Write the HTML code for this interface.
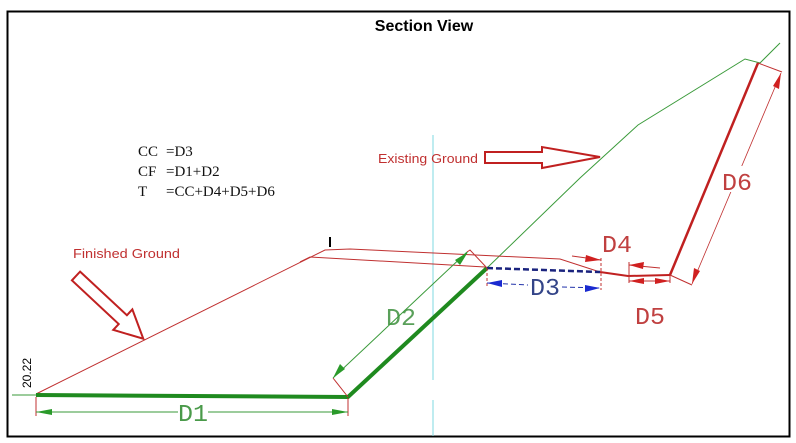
<!DOCTYPE html>
<html><head><meta charset="utf-8"><style>
html,body{margin:0;padding:0;background:#fff;}
svg{display:block;}
</style></head><body>
<svg width="796" height="443" viewBox="0 0 796 443" xmlns="http://www.w3.org/2000/svg">
<rect x="0" y="0" width="796" height="443" fill="#fff"/>
<rect x="7.5" y="11.5" width="782" height="425" fill="none" stroke="#000" stroke-width="2"/>
<text x="424" y="31" font-family="Liberation Sans, sans-serif" font-weight="bold" font-size="16" text-anchor="middle">Section View</text>

<g font-family="Liberation Serif, serif" font-size="15" fill="#111">
<text x="138" y="156">CC</text><text x="166" y="156">=D3</text>
<text x="138" y="176">CF</text><text x="166" y="176">=D1+D2</text>
<text x="138" y="196">T</text><text x="166" y="196">=CC+D4+D5+D6</text>
</g>

<line x1="433" y1="135" x2="433" y2="380" stroke="#7fd8e0" stroke-width="1"/>
<line x1="433" y1="400" x2="433" y2="436" stroke="#7fd8e0" stroke-width="1"/>

<polyline points="487,268 580,178 638,125 745,59 760,63 780,43" fill="none" stroke="#3a9a3a" stroke-width="1"/>
<line x1="12" y1="395" x2="36" y2="395" stroke="#3a9a3a" stroke-width="1"/>

<polyline points="36,394 325,250 350,249 560,259 600,272 628,276 670,275" fill="none" stroke="#c03030" stroke-width="1"/>
<polyline points="300,262 310,257 485,267" fill="none" stroke="#c03030" stroke-width="1"/>
<polyline points="600,272 628,276 670,275" fill="none" stroke="#c02020" stroke-width="2"/>
<line x1="670" y1="275" x2="758" y2="63" stroke="#c02020" stroke-width="2.5"/>
<line x1="330" y1="237" x2="330" y2="247" stroke="#000" stroke-width="2"/>

<polyline points="36,395 348,397 487,268" fill="none" stroke="#1f8a1f" stroke-width="4"/>

<line x1="36" y1="397" x2="36" y2="416" stroke="#c03030" stroke-width="1"/>
<line x1="348" y1="398" x2="348" y2="416" stroke="#c03030" stroke-width="1"/>
<line x1="36" y1="412" x2="178" y2="412" stroke="#3a9a3a" stroke-width="1"/>
<line x1="208" y1="412" x2="348" y2="412" stroke="#3a9a3a" stroke-width="1"/>
<polygon points="36,412 52,409 52,415" fill="#2a9a2a"/>
<polygon points="348,412 332,409 332,415" fill="#2a9a2a"/>
<g font-family="Liberation Mono, monospace" font-size="24" text-anchor="middle">
<text x="193" y="421" fill="#4a9a4a" textLength="30" lengthAdjust="spacingAndGlyphs">D1</text>
<text x="401" y="325" fill="#5aa05a" textLength="30" lengthAdjust="spacingAndGlyphs">D2</text>
<text x="545" y="295" fill="#334488" textLength="30" lengthAdjust="spacingAndGlyphs">D3</text>
<text x="617" y="252" fill="#c04040" textLength="30" lengthAdjust="spacingAndGlyphs">D4</text>
<text x="650" y="324" fill="#c04040" textLength="30" lengthAdjust="spacingAndGlyphs">D5</text>
</g>

<line x1="333" y1="378" x2="348" y2="397" stroke="#c03030" stroke-width="1"/>
<polyline points="467,252 470,250 487,268" fill="none" stroke="#c03030" stroke-width="1"/>
<line x1="333" y1="378" x2="467" y2="252" stroke="#3a9a3a" stroke-width="1"/>
<polygon points="333,378 340,364 345,369" fill="#2a9a2a"/>
<polygon points="468,252 455,260 460,265" fill="#2a9a2a"/>

<line x1="487" y1="268" x2="600" y2="272" stroke="#1a237e" stroke-width="2.5" stroke-dasharray="6,3"/>
<line x1="487" y1="268" x2="487" y2="286" stroke="#c03030" stroke-width="1" stroke-dasharray="3,2"/>
<line x1="601" y1="258" x2="601" y2="290" stroke="#c03030" stroke-width="1" stroke-dasharray="3,2"/>
<line x1="487" y1="283" x2="528" y2="285" stroke="#2233aa" stroke-width="1" stroke-dasharray="5,3"/>
<line x1="562" y1="287" x2="600" y2="288" stroke="#2233aa" stroke-width="1" stroke-dasharray="5,3"/>
<polygon points="487,283 502,280 502,287" fill="#1a2ad0"/>
<polygon points="600,288 585,285 585,292" fill="#1a2ad0"/>

<line x1="572" y1="256" x2="601" y2="260" stroke="#c03030" stroke-width="1"/>
<polygon points="601,260 586,255 585,262" fill="#d02020"/>
<line x1="629" y1="262" x2="629" y2="283" stroke="#c03030" stroke-width="1"/>
<line x1="629" y1="265" x2="660" y2="268" stroke="#c03030" stroke-width="1"/>
<polygon points="629,265 644,262 643,269" fill="#d02020"/>

<line x1="670" y1="275" x2="670" y2="283" stroke="#c03030" stroke-width="1"/>
<line x1="629" y1="281" x2="670" y2="281" stroke="#c03030" stroke-width="1"/>
<polygon points="629,281 644,278 644,284" fill="#d02020"/>
<polygon points="670,281 655,278 655,284" fill="#d02020"/>

<line x1="670" y1="275" x2="692" y2="285" stroke="#c03030" stroke-width="1"/>
<line x1="758" y1="63" x2="782" y2="72" stroke="#c03030" stroke-width="1"/>
<line x1="692" y1="284" x2="781" y2="73" stroke="#c03030" stroke-width="0.8"/>
<polygon points="692,284 694,268 700,271" fill="#d02020"/>
<polygon points="781,73 779,89 773,86" fill="#d02020"/>
<rect x="722" y="166" width="30" height="26" fill="#fff"/>
<text x="737" y="190" font-family="Liberation Mono, monospace" font-size="24" fill="#c04040" text-anchor="middle" textLength="30" lengthAdjust="spacingAndGlyphs">D6</text>

<text transform="translate(31,388) rotate(-90)" font-family="Liberation Sans, sans-serif" font-size="12" fill="#000">20.22</text>

<text x="73" y="258" font-family="Liberation Sans, sans-serif" font-size="13" fill="#c03030" textLength="107" lengthAdjust="spacingAndGlyphs">Finished Ground</text>
<text x="378" y="163" font-family="Liberation Sans, sans-serif" font-size="13" fill="#c03030" textLength="100" lengthAdjust="spacingAndGlyphs">Existing Ground</text>

<polygon points="485,152 542,152 542,147 600,157 542,168 542,163 485,163" fill="none" stroke="#c02020" stroke-width="2"/>
<g transform="translate(76,276) rotate(43)">
<polygon points="0,-6 64,-6 64,-14 92,0 64,14 64,6 0,6" fill="none" stroke="#c02020" stroke-width="2"/>
</g>
</svg>
</body></html>
